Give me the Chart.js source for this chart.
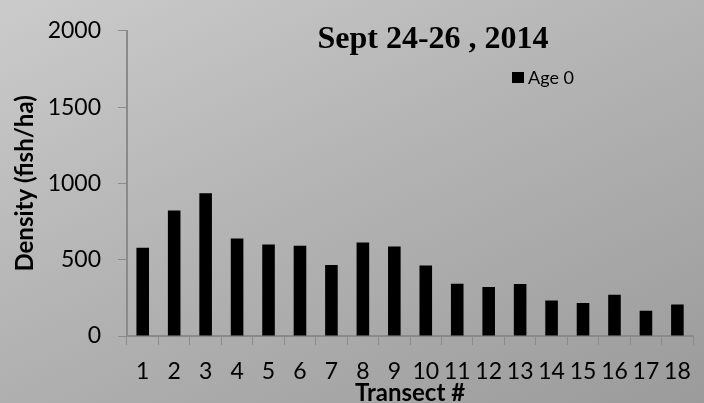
<!DOCTYPE html>
<html>
<head>
<meta charset="utf-8">
<script src="https://cdn.jsdelivr.net/npm/chart.js@4"></script>
<style>
  html, body { margin: 0; padding: 0; }
  body {
    width: 704px; height: 403px; overflow: hidden;
    background: linear-gradient(155deg, #cbcbcb 0%, #b4b4b4 45%, #9b9b9b 100%);
  }
  #wrap { width: 704px; height: 403px; position: relative; }
</style>
</head>
<body>
<div id="wrap"><canvas id="densityChart"></canvas></div>
<script>
// transect numbers along the x axis
const transects = ["1", "2", "3", "4", "5", "6", "7", "8", "9", "10",
  "11", "12", "13", "14", "15", "16", "17", "18"];
// age 0 fish density (fish/ha)
const age0 = [578, 823, 935, 639, 599, 591, 466, 612, 587, 462,
  342, 321, 340, 232, 217, 270, 165, 207];
const yTicks = [0, 500, 1000, 1500, 2000];

const chartTitle = "Sept 24-26 , 2014";
const axisColor = "#8a8a8a";
const sans = "Lato, 'Noto Sans', sans-serif";

// title + legend sit inside the plot area, so draw them by hand
const overlayText = {
  id: "overlayText",
  afterDraw(chart) {
    const ctx = chart.ctx;
    ctx.save();
    ctx.fillStyle = "#000";
    ctx.font = "bold 32px 'Liberation Serif', 'Times New Roman', serif";
    ctx.textAlign = "center";
    ctx.textBaseline = "alphabetic";
    ctx.fillText(chartTitle, 433, 48);

    const ds = chart.data.datasets[0];
    ctx.fillStyle = ds.backgroundColor;
    ctx.fillRect(512, 72, 12, 11);
    ctx.fillStyle = "#000";
    ctx.font = "18px " + sans;
    ctx.textAlign = "left";
    ctx.textBaseline = "middle";
    ctx.fillText(ds.label, 528, 78);
    ctx.restore();
  },
};

const ctx = document.getElementById("densityChart").getContext("2d");
new Chart(ctx, {
  type: "bar",
  data: {
    labels: transects,
    datasets: [
      {
        label: "Age 0",
        data: age0,
        backgroundColor: "#000000",
        borderWidth: 0,
        barPercentage: 0.4,
        categoryPercentage: 1.0,
      },
    ],
  },
  options: {
    responsive: true,
    maintainAspectRatio: false,
    animation: false,
    layout: { padding: { top: 20, right: 10, left: 0, bottom: 0 } },
    plugins: {
      legend: { display: false },
      tooltip: { enabled: false },
    },
    scales: {
      x: {
        grid: {
          offset: true,
          drawOnChartArea: false,
          drawTicks: true,
          tickLength: 9,
          color: axisColor,
        },
        border: { color: axisColor, width: 2 },
        ticks: {
          color: "#000",
          font: { family: sans, size: 23 },
          padding: 13,
          maxRotation: 0,
          autoSkip: false,
        },
        title: {
          display: true,
          text: "Transect #",
          color: "#000",
          font: { family: sans, size: 24, weight: "bold", lineHeight: 0.8 },
          padding: { top: 0, bottom: 0 },
        },
        afterFit(scale) {
          scale.height = 67;
        },
      },
      y: {
        min: 0,
        max: 2000,
        afterBuildTicks(scale) {
          scale.ticks = yTicks.map((v) => ({ value: v }));
        },
        grid: {
          drawOnChartArea: false,
          drawTicks: true,
          tickLength: 9,
          color: axisColor,
        },
        border: { color: axisColor, width: 2 },
        ticks: {
          color: "#000",
          font: { family: sans, size: 23 },
          padding: 17,
          callback: (v) => String(v),
        },
        title: {
          display: true,
          text: "Density (fish/ha)",
          color: "#000",
          font: { family: sans, size: 24, weight: "bold" },
          padding: { top: 11, bottom: 0 },
        },
        afterFit(scale) {
          scale.width = 127;
        },
      },
    },
  },
  plugins: [overlayText],
});
</script>
</body>
</html>
